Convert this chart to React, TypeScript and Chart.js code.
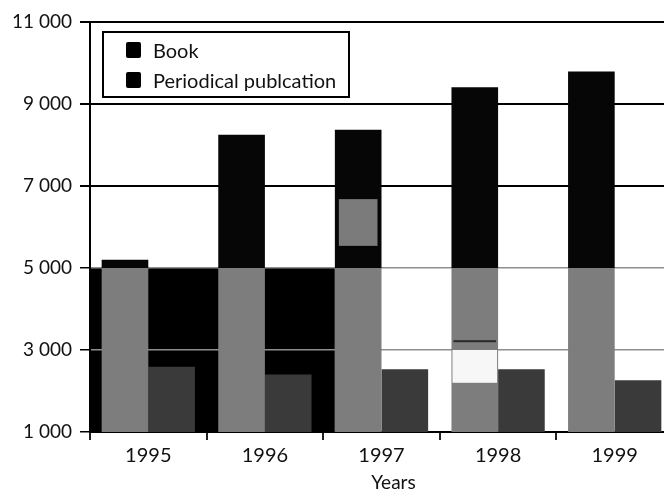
import React, { useEffect, useRef } from "react";
import { Chart, registerables } from "chart.js";

Chart.register(...registerables);

// ---- data ----
const years = ["1995", "1996", "1997", "1998", "1999"];
const bookValues = [5200, 8250, 8370, 9410, 9790];
const periodicalValues = [2590, 2400, 2530, 2530, 2260];
const seriesLabels = ["Book", "Periodical publcation"];
const yTickValues = [1000, 3000, 5000, 7000, 9000, 11000];
const yTickLabels = ["1 000", "3 000", "5 000", "7 000", "9 000", "11 000"];
const xAxisTitle = "Years";
// value below which the Book bars print grey in the reference scan
const bookShadeBelow = [5000];
// dark band behind the first two years, between these values
const darkBandFrom = [1000];
const darkBandTo = [5000];
// blemishes of the scan painted on Book bars: bar index, value from, value to
const blemishBar = [2, 3, 3];
const blemishFrom = [5540, 2200, 3190];
const blemishTo = [6680, 3000, 3240];

// ---- styles ----
const FONT = "Lato, 'Open Sans', sans-serif";
const BOOK_DARK = "#060606";
const BOOK_GREY = "#7d7d7d";
const PERIODICAL = "#3a3a3a";
const GRID_GREY = "#8e8e8e";
const blemishStyle = [
  { color: "#7b7b7b", inset: 4 },
  { color: "#f7f7f7", inset: 1 },
  { color: "#2a2a2a", inset: 2 },
];

const darkBandPlugin = {
  id: "darkBand",
  beforeDraw(chart: any) {
    const { ctx, chartArea } = chart;
    const meta = chart.getDatasetMeta(0);
    const el = meta.data[2];
    if (!el) return;
    const { x, width } = el.getProps(["x", "width"], true);
    const y = chart.scales.y;
    const top = y.getPixelForValue(darkBandTo[0]);
    const bottom = y.getPixelForValue(darkBandFrom[0]);
    ctx.save();
    ctx.fillStyle = "#000";
    ctx.fillRect(chartArea.left, top, x - width / 2 - chartArea.left, bottom - top);
    ctx.restore();
  },
};

const blemishPlugin = {
  id: "blemish",
  afterDatasetsDraw(chart: any) {
    const { ctx } = chart;
    const meta = chart.getDatasetMeta(0);
    const y = chart.scales.y;
    ctx.save();
    blemishBar.forEach((bi, i) => {
      const el = meta.data[bi];
      if (!el) return;
      const { x, width } = el.getProps(["x", "width"], true);
      const st = blemishStyle[i];
      const t = y.getPixelForValue(blemishTo[i]);
      const b = y.getPixelForValue(blemishFrom[i]);
      ctx.fillStyle = st.color;
      ctx.fillRect(x - width / 2 + st.inset, t, width - 2 * st.inset, b - t);
    });
    ctx.restore();
  },
};

const boxLegendPlugin = {
  id: "boxLegend",
  afterDraw(chart: any) {
    const { ctx, chartArea } = chart;
    const bx = chartArea.left + 13;
    const by = chartArea.top + 10;
    const bw = 246;
    const bh = 65;
    ctx.save();
    ctx.fillStyle = "#fff";
    ctx.fillRect(bx, by, bw, bh);
    ctx.strokeStyle = "#000";
    ctx.lineWidth = 2;
    ctx.strokeRect(bx, by, bw, bh);
    ctx.font = `20px ${FONT}`;
    ctx.textBaseline = "alphabetic";
    ctx.textAlign = "left";
    seriesLabels.forEach((label, i) => {
      ctx.fillStyle = "#000";
      ctx.beginPath();
      (ctx as any).roundRect
        ? (ctx as any).roundRect(bx + 23, by + 10 + i * 30, 15, 16, 2)
        : ctx.rect(bx + 23, by + 10 + i * 30, 15, 16);
      ctx.fill();
      ctx.fillStyle = "#111";
      ctx.fillText(label, bx + 50, by + 26 + i * 30);
    });
    ctx.restore();
  },
};

const xTitlePlugin = {
  id: "xTitle",
  afterDraw(chart: any) {
    const { ctx } = chart;
    const xs = chart.scales.x;
    ctx.save();
    ctx.font = `19px ${FONT}`;
    ctx.fillStyle = "#111";
    ctx.textAlign = "center";
    ctx.textBaseline = "alphabetic";
    ctx.fillText(xAxisTitle, xs.getPixelForValue(2) + 12, chart.height - 3);
    ctx.restore();
  },
};

export default function App() {
  const ref = useRef<HTMLCanvasElement>(null);

  useEffect(() => {
    if (!ref.current) return;
    const chart = new Chart(ref.current, {
      type: "bar",
      data: {
        labels: years,
        datasets: [
          {
            label: seriesLabels[0],
            data: bookValues,
            backgroundColor: (c: any) => {
              const ch = c.chart;
              const area = ch.chartArea;
              if (!area) return BOOK_DARK;
              const p = ch.scales.y.getPixelForValue(bookShadeBelow[0]);
              const t = Math.min(1, Math.max(0, (p - area.top) / (area.bottom - area.top)));
              const g = ch.ctx.createLinearGradient(0, area.top, 0, area.bottom);
              g.addColorStop(0, BOOK_DARK);
              g.addColorStop(t, BOOK_DARK);
              g.addColorStop(t, BOOK_GREY);
              g.addColorStop(1, BOOK_GREY);
              return g;
            },
            borderWidth: 0,
            categoryPercentage: 0.8,
            barPercentage: 1.0,
          },
          {
            label: seriesLabels[1],
            data: periodicalValues,
            backgroundColor: PERIODICAL,
            borderWidth: 0,
            categoryPercentage: 0.8,
            barPercentage: 1.0,
          },
        ],
      },
      options: {
        animation: false,
        responsive: false,
        devicePixelRatio: 1,
        layout: { padding: { top: 22, left: 0, right: 0, bottom: 0 } },
        plugins: {
          legend: { display: false },
          title: { display: false },
          tooltip: { enabled: false },
        },
        scales: {
          x: {
            afterFit: (s: any) => {
              s.height = 60;
            },
            grid: {
              offset: true,
              drawOnChartArea: false,
              drawTicks: true,
              tickLength: 8,
              color: "#222",
              lineWidth: 2,
            },
            border: { display: true, color: "#000", width: 2 },
            ticks: {
              font: { family: FONT, size: 20 },
              color: "#111",
              padding: 4,
            },
          },
          y: {
            min: 1000,
            max: 11000,
            afterFit: (s: any) => {
              s.width = 90;
            },
            afterBuildTicks: (s: any) => {
              s.ticks = yTickValues.map((v) => ({ value: v }));
            },
            grid: {
              color: (c: any) =>
                c.tick && (c.tick.value >= 7000 || c.tick.value <= 1000) ? "#000" : GRID_GREY,
              lineWidth: (c: any) => (c.tick && c.tick.value >= 7000 ? 2 : 1.5),
              tickColor: "#000",
              tickLength: 10,
              drawTicks: true,
            },
            border: { display: true, color: "#000", width: 2 },
            ticks: {
              font: { family: FONT, size: 19 },
              color: "#111",
              padding: 8,
              callback: (_v: any, i: number) => yTickLabels[i],
            },
          },
        },
      },
      plugins: [darkBandPlugin, blemishPlugin, boxLegendPlugin, xTitlePlugin],
    } as any);
    return () => chart.destroy();
  }, []);

  return (
    <div
      style={{
        position: "fixed",
        left: 0,
        top: 0,
        width: 664,
        height: 492,
        overflow: "hidden",
        background: "#fff",
      }}
    >
      <canvas ref={ref} width={673} height={492} style={{ width: 673, height: 492, display: "block" }} />
    </div>
  );
}
